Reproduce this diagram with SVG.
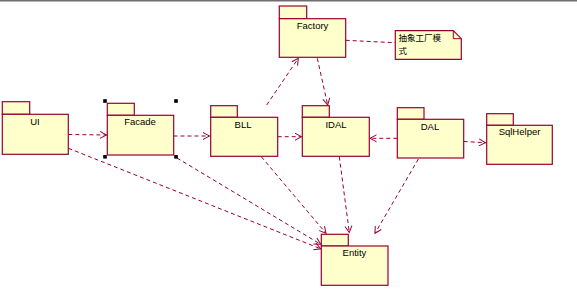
<svg xmlns="http://www.w3.org/2000/svg" width="577" height="289" viewBox="0 0 577 289">
<defs>
<marker id="arr" markerUnits="userSpaceOnUse" markerWidth="12" markerHeight="12" refX="0" refY="0" viewBox="-8 -6 10 12" orient="auto">
<path d="M-6.5,-3.5 L0,0 L-6.5,3.5" fill="none" stroke="#990033" stroke-width="1"/>
</marker>
</defs>
<style>
.pk{fill:#FFFFCC;stroke:#990033;stroke-width:1.2}
.lb{font-family:"Liberation Sans",Arial,sans-serif;font-size:9.5px;fill:#000;text-anchor:middle}
.dep{fill:none;stroke:#990033;stroke-width:1;stroke-dasharray:4,3;marker-end:url(#arr)}
.lnk{fill:none;stroke:#990033;stroke-width:1;stroke-dasharray:4,3}
.h{fill:#000}
</style>
<rect x="0" y="0" width="577" height="1.5" fill="#6e6e6e"/>
<g id="connectors">
<path class="dep" d="M68.4,134.5 L106.5,135"/>
<path class="dep" d="M173.5,136 L209.5,136"/>
<path class="dep" d="M277.7,136.7 L301.5,136.7"/>
<path class="dep" d="M397.3,138.3 L370,138.3"/>
<path class="dep" d="M463.7,141.5 L485.5,142.7"/>
<path class="dep" d="M266.7,105 L298.3,58.3"/>
<path class="dep" d="M317.3,58.3 L327.7,105"/>
<path class="lnk" d="M345.7,40.3 L370,41.5 L395.3,42.7"/>
<path class="dep" d="M68.4,148.3 L320.7,248.8"/>
<path class="dep" d="M177,158 L320.7,244.3"/>
<path class="dep" d="M261.3,156.7 L326,233.3"/>
<path class="dep" d="M339.3,156.7 L349.3,232.5"/>
<path class="dep" d="M418.4,159 L375,233.3"/>
</g>
<g id="UI">
<rect class="pk" x="2.3" y="101.7" width="27.4" height="12.6"/>
<rect class="pk" x="2.3" y="114.3" width="66" height="40"/>
<text class="lb" x="35" y="125">UI</text>
</g>
<g id="Facade">
<rect class="pk" x="107.3" y="103.3" width="27" height="12"/>
<rect class="pk" x="107.3" y="115.3" width="66.4" height="39.7"/>
<text class="lb" x="140" y="125">Facade</text>
<rect class="h" x="103.2" y="99.2" width="3.6" height="3.6"/>
<rect class="h" x="174.2" y="99.2" width="3.6" height="3.6"/>
<rect class="h" x="103.2" y="155" width="3.6" height="3.6"/>
<rect class="h" x="174.2" y="155" width="3.6" height="3.6"/>
</g>
<g id="BLL">
<rect class="pk" x="210.7" y="105.7" width="26.6" height="11.6"/>
<rect class="pk" x="210.7" y="117.3" width="67" height="39"/>
<text class="lb" x="243" y="127.5">BLL</text>
</g>
<g id="IDAL">
<rect class="pk" x="302.3" y="105.7" width="27" height="11.6"/>
<rect class="pk" x="302.3" y="117.3" width="67" height="39"/>
<text class="lb" x="336" y="127.5">IDAL</text>
</g>
<g id="DAL">
<rect class="pk" x="397.3" y="107.7" width="26.7" height="11.6"/>
<rect class="pk" x="397.3" y="119.3" width="66.4" height="38.7"/>
<text class="lb" x="430" y="129.5">DAL</text>
</g>
<g id="SqlHelper">
<rect class="pk" x="486.7" y="113.7" width="26.6" height="11.6"/>
<rect class="pk" x="486.7" y="125.3" width="65.6" height="39"/>
<text class="lb" x="519.5" y="135">SqlHelper</text>
</g>
<g id="Factory">
<rect class="pk" x="279.3" y="6" width="27.4" height="12.7"/>
<rect class="pk" x="279.3" y="18.7" width="66.4" height="38.6"/>
<text class="lb" x="312.5" y="28.5">Factory</text>
</g>
<g id="Note">
<path class="pk" d="M395.3,30.7 L453.3,30.7 L461.3,38.7 L461.3,59.3 L395.3,59.3 Z"/>
<path d="M453.3,30.7 L453.3,38.7 L461.3,38.7" fill="none" stroke="#990033" stroke-width="1"/>
<text font-family="'Noto Sans CJK SC',sans-serif" font-size="8.5" fill="#000" x="398.5" y="41">抽象工厂模</text>
<text font-family="'Noto Sans CJK SC',sans-serif" font-size="8.5" fill="#000" x="398.5" y="54">式</text>
</g>
<g id="Entity">
<rect class="pk" x="321.3" y="234.3" width="27" height="11.7"/>
<rect class="pk" x="321.3" y="246" width="66.7" height="39.3"/>
<text class="lb" x="354.5" y="256">Entity</text>
</g>
</svg>
